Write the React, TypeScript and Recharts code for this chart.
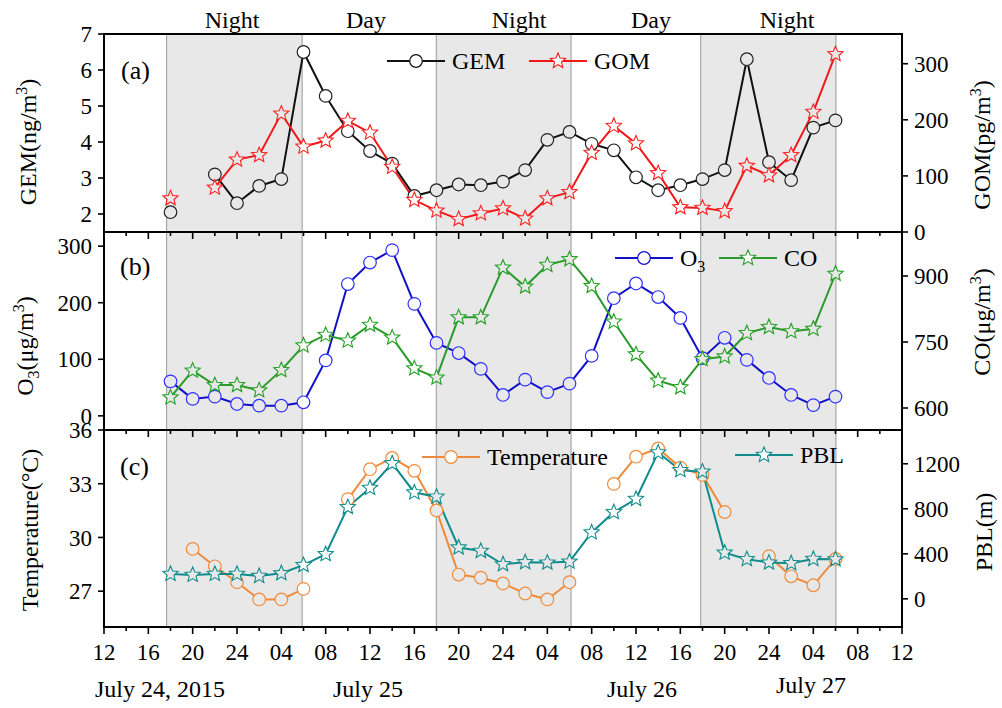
import { LineChart, Line, XAxis, YAxis, ReferenceArea } from "recharts";

const FONT = '"Liberation Serif", "Times New Roman", serif';
const SHADE = "#e8e8e8";

// sampling times, in hours after 12:00 on July 24 (18:00 Jul 24 ... 06:00 Jul 27)
const hours = [6, 8, 10, 12, 14, 16, 18, 20, 22, 24, 26, 28, 30, 32, 34, 36, 38, 40, 42, 44, 46, 48, 50, 52, 54, 56, 58, 60, 62, 64, 66];

const gem = [2.05, null, 3.1, 2.3, 2.78, 2.97, 6.5, 5.28, 4.3, 3.75, 3.4, 2.5, 2.66, 2.82, 2.8, 2.9, 3.22, 4.06, 4.28, 3.95, 3.77, 3.02, 2.66, 2.8, 2.97, 3.22, 6.3, 3.44, 2.94, 4.4, 4.6];
const gom = [60, null, 79, 129, 137, 211, 152, 163, 198, 177, 116, 57, 38, 23, 33, 42, 24, 60, 71, 141, 189, 158, 105, 44, 43, 37, 118, 101, 137, 214, 317];
const o3 = [61, 30, 34, 21, 18, 18, 24, 98, 233, 271, 293, 198, 129, 111, 83, 37, 64, 42, 57, 106, 208, 234, 210, 173, 102, 138, 99, 67, 37, 19, 34];
const co = [624, 685, 652, 652, 640, 686, 742, 766, 753, 789, 760, 690, 669, 806, 806, 919, 876, 925, 938, 877, 796, 722, 662, 647, 711, 717, 770, 784, 774, 780, 905];
const temp = [null, 29.36, 28.39, 27.5, 26.54, 26.54, 27.13, null, 32.14, 33.81, 34.44, 33.72, 31.51, 27.93, 27.75, 27.43, 26.87, 26.54, 27.5, null, 32.99, 34.51, 34.97, 33.9, 33.49, 31.42, null, 28.95, 27.83, 27.33, 28.8];
const pbl = [221, 212, 221, 221, 203, 227, 300, 397, 815, 985, 1204, 945, 907, 456, 425, 307, 325, 322, 330, 590, 770, 887, 1300, 1143, 1130, 410, 352, 322, 316, 354, 351];

// night periods (hours after 12:00 Jul 24)
const nights: [number, number][] = [[5.65, 17.88], [29.98, 42.14], [53.84, 66.04]];

const xTicks = [0, 2, 4, 6, 8, 10, 12, 14, 16, 18, 20, 22, 24, 26, 28, 30, 32, 34, 36, 38, 40, 42, 44, 46, 48, 50, 52, 54, 56, 58, 60, 62, 64, 66, 68, 70, 72];
const gemTicks = [2, 3, 4, 5, 6, 7];
const gomTicks = [0, 100, 200, 300];
const o3Ticks = [0, 100, 200, 300];
const coTicks = [600, 750, 900];
const tempTicks = [27, 30, 33, 36];
const pblTicks = [0, 400, 800, 1200];

const periodNames = ["Night", "Day", "Night", "Day", "Night"];
const periodX = [232, 366, 519, 651, 787];
const dateNames = ["July 24, 2015", "July 25", "July 26", "July 27"];
const dateX = [160, 368, 642, 811];
const dateY = [697, 697, 697, 693];

const rows = hours.map((h, i) => ({
  h,
  gem: gem[i],
  gom: gom[i],
  o3: o3[i],
  co: co[i],
  temp: temp[i],
  pbl: pbl[i],
}));

const inNight = (h: number) => nights.some(([a, b]) => h > a && h < b);
const bgAt = (h: number) => (inNight(h) ? SHADE : "#fff");

const clock = (v: number) => {
  const hh = (12 + v) % 24;
  return hh === 0 ? "24" : String(hh).padStart(2, "0");
};

function starPath(cx: number, cy: number, R: number, r: number) {
  let d = "";
  for (let i = 0; i < 10; i++) {
    const a = -Math.PI / 2 + (i * Math.PI) / 5;
    const rad = i % 2 === 0 ? R : r;
    d += (i ? "L" : "M") + (cx + rad * Math.cos(a)).toFixed(2) + "," + (cy + rad * Math.sin(a)).toFixed(2);
  }
  return d + "Z";
}

function circleDot(key: string, color: string) {
  return (p: any) => {
    const { cx, cy, payload, index } = p;
    if (payload?.[key] == null || cx == null || cy == null || Number.isNaN(cy)) return <g key={`${key}${index}`} />;
    return <circle key={`${key}${index}`} cx={cx} cy={cy} r={6.3} fill={bgAt(payload.h)} stroke={color} strokeWidth={1.2} />;
  };
}

function starDot(key: string, color: string) {
  return (p: any) => {
    const { cx, cy, payload, index } = p;
    if (payload?.[key] == null || cx == null || cy == null || Number.isNaN(cy)) return <g key={`${key}${index}`} />;
    return <path key={`${key}${index}`} d={starPath(cx, cy, 8, 3.6)} fill={bgAt(payload.h)} stroke={color} strokeWidth={1.1} strokeLinejoin="miter" />;
  };
}

function xTick(withLabels: boolean) {
  return (p: any) => {
    const { x, y, payload } = p;
    const v = payload.value as number;
    const major = v % 4 === 0;
    return (
      <g key={`t${v}`}>
        <line x1={x} y1={y} x2={x} y2={y + (major ? 7 : 4)} stroke="#000" strokeWidth={1.6} />
        {withLabels && major && (
          <text x={x} y={y + 33} textAnchor="middle" fontSize={23} fontFamily={FONT} fill="#000">
            {clock(v)}
          </text>
        )}
      </g>
    );
  };
}

const tickFont = { fill: "#000", fontSize: 23, fontFamily: FONT };
const tickLine = { stroke: "#000", strokeWidth: 1.6 };

function nightAreas(axisId: string) {
  return nights.map(([a, b], i) => (
    <ReferenceArea key={`n${i}`} yAxisId={axisId} x1={a} x2={b} fill={SHADE} fillOpacity={1} stroke="#9a9a9a" strokeWidth={1} />
  ));
}

function frame(axisId: string) {
  return <ReferenceArea key="frame" yAxisId={axisId} x1={0} x2={72} fill="none" stroke="#000" strokeWidth={2} />;
}

function xAxis(withLabels: boolean, height: number) {
  return (
    <XAxis
      dataKey="h"
      type="number"
      domain={[0, 72]}
      ticks={xTicks}
      interval={0}
      height={height}
      axisLine={false}
      tickLine={false}
      tickSize={0}
      tickMargin={0}
      tick={xTick(withLabels)}
      allowDataOverflow
    />
  );
}

function yAxis(id: string, side: "left" | "right", domain: [number, number], ticks: number[]) {
  return (
    <YAxis
      yAxisId={id}
      orientation={side}
      width={side === "left" ? 104 : 100}
      type="number"
      domain={domain}
      ticks={ticks}
      interval={0}
      allowDataOverflow
      axisLine={false}
      tickLine={tickLine}
      tickSize={6}
      tickMargin={6}
      tick={tickFont}
    />
  );
}

function Legend({ x, y, kind, color, children }: { x: number; y: number; kind: "circle" | "star"; color: string; children: any }) {
  const mx = x + 29;
  return (
    <g>
      <line x1={x} y1={y} x2={x + 58} y2={y} stroke={color} strokeWidth={2} />
      {kind === "circle" ? (
        <circle cx={mx} cy={y} r={6.3} fill="#fff" stroke={color} strokeWidth={1.2} />
      ) : (
        <path d={starPath(mx, y, 8, 3.6)} fill="#fff" stroke={color} strokeWidth={1.1} />
      )}
      <text x={x + 65} y={y + 8} fontSize={24} fontFamily={FONT} fill="#000">
        {children}
      </text>
    </g>
  );
}

export default function App() {
  return (
    <div style={{ position: "absolute", left: 0, top: 0, width: 1002, height: 708, background: "#fff" }}>
      {/* (a) GEM / GOM */}
      <div style={{ position: "absolute", left: 0, top: 0, zIndex: 3 }}>
        <LineChart width={1002} height={250} data={rows} margin={{ top: 34, right: 0, bottom: 8, left: 0 }}>
          {nightAreas("gL")}
          {xAxis(false, 10)}
          {yAxis("gL", "left", [1.5, 7], gemTicks)}
          {yAxis("gR", "right", [0, 353], gomTicks)}
          <Line yAxisId="gL" dataKey="gem" stroke="#111" strokeWidth={2} dot={circleDot("gem", "#222")} isAnimationActive={false} />
          <Line yAxisId="gR" dataKey="gom" stroke="#f01818" strokeWidth={2} dot={starDot("gom", "#ff2020")} isAnimationActive={false} />
          {frame("gL")}
        </LineChart>
      </div>

      {/* (b) O3 / CO */}
      <div style={{ position: "absolute", left: 0, top: 222, zIndex: 2 }}>
        <LineChart width={1002} height={218} data={rows} margin={{ top: 10, right: 0, bottom: 0, left: 0 }}>
          {nightAreas("oL")}
          {xAxis(false, 10)}
          {yAxis("oL", "left", [-25, 325], o3Ticks)}
          {yAxis("oR", "right", [550, 1000], coTicks)}
          <Line yAxisId="oL" dataKey="o3" stroke="#1010c8" strokeWidth={2} dot={circleDot("o3", "#3030ff")} isAnimationActive={false} />
          <Line yAxisId="oR" dataKey="co" stroke="#2c9a2c" strokeWidth={2} dot={starDot("co", "#22a022")} isAnimationActive={false} />
          {frame("oL")}
        </LineChart>
      </div>

      {/* (c) Temperature / PBL */}
      <div style={{ position: "absolute", left: 0, top: 410, zIndex: 1 }}>
        <LineChart width={1002} height={262} data={rows} margin={{ top: 20, right: 0, bottom: 0, left: 0 }}>
          {nightAreas("tL")}
          {xAxis(true, 45)}
          {yAxis("tL", "left", [25, 36], tempTicks)}
          {yAxis("tR", "right", [-250, 1500], pblTicks)}
          <Line yAxisId="tL" dataKey="temp" stroke="#ee8a3a" strokeWidth={2} dot={circleDot("temp", "#f08c3c")} isAnimationActive={false} />
          <Line yAxisId="tR" dataKey="pbl" stroke="#108c8c" strokeWidth={2} dot={starDot("pbl", "#108c8c")} isAnimationActive={false} />
          {frame("tL")}
        </LineChart>
      </div>

      {/* titles, legends and annotations */}
      <svg width={1002} height={708} style={{ position: "absolute", left: 0, top: 0, zIndex: 5, pointerEvents: "none" }} fontFamily={FONT} fill="#000">
        {periodNames.map((t, i) => (
          <text key={`p${i}`} x={periodX[i]} y={28} textAnchor="middle" fontSize={24}>
            {t}
          </text>
        ))}

        <text x={121} y={79} fontSize={26}>(a)</text>
        <text x={120} y={275} fontSize={26}>(b)</text>
        <text x={120} y={475} fontSize={26}>(c)</text>

        <Legend x={387} y={61} kind="circle" color="#111">GEM</Legend>
        <Legend x={529} y={61} kind="star" color="#f01818">GOM</Legend>
        <Legend x={615} y={258} kind="circle" color="#1010c8">
          O<tspan fontSize={16} dy={6}>3</tspan>
        </Legend>
        <Legend x={719} y={258} kind="star" color="#2c9a2c">CO</Legend>
        <Legend x={422} y={457} kind="circle" color="#ee8a3a">Temperature</Legend>
        <Legend x={735} y={455} kind="star" color="#108c8c">PBL</Legend>

        {/* left axis titles */}
        <text transform="translate(36,142) rotate(-90)" textAnchor="middle" fontSize={24}>
          GEM(ng/m<tspan fontSize={16} dy={-9}>3</tspan><tspan dy={9}>)</tspan>
        </text>
        <text transform="translate(33,346) rotate(-90)" textAnchor="middle" fontSize={24}>
          O<tspan fontSize={16} dy={6}>3</tspan><tspan dy={-6}>(μg/m</tspan><tspan fontSize={16} dy={-9}>3</tspan><tspan dy={9}>)</tspan>
        </text>
        <text transform="translate(38,530) rotate(-90)" textAnchor="middle" fontSize={24}>
          Temperature(°C)
        </text>

        {/* right axis titles */}
        <text transform="translate(990,145) rotate(-90)" textAnchor="middle" fontSize={24}>
          GOM(pg/m<tspan fontSize={16} dy={-9}>3</tspan><tspan dy={9}>)</tspan>
        </text>
        <text transform="translate(990,322) rotate(-90)" textAnchor="middle" fontSize={24}>
          CO(μg/m<tspan fontSize={16} dy={-9}>3</tspan><tspan dy={9}>)</tspan>
        </text>
        <text transform="translate(992,532) rotate(-90)" textAnchor="middle" fontSize={24}>
          PBL(m)
        </text>

        {dateNames.map((t, i) => (
          <text key={`d${i}`} x={dateX[i]} y={dateY[i]} textAnchor="middle" fontSize={24}>
            {t}
          </text>
        ))}
      </svg>
    </div>
  );
}
